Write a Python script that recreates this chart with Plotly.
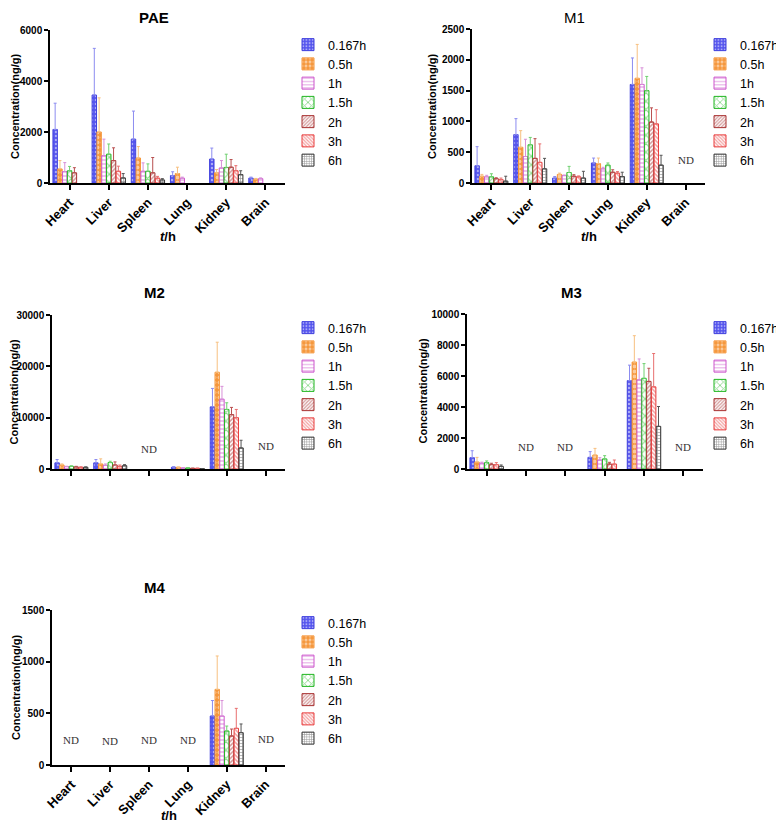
import plotly.graph_objects as go

# The page body adds an 8px margin, so the figure is drawn at (8, 8) in the window.
OFF = 8
W, H = 776, 815

categories = ["Heart", "Liver", "Spleen", "Lung", "Kidney", "Brain"]
series = ["0.167h", "0.5h", "1h", "1.5h", "2h", "3h", "6h"]

# mean values [series][category]; None = no bar
pae_mean = [
    [2100, 3450, 1720, 290, 940, 190],
    [550, 2000, 980, 370, 400, 150],
    [450, 1070, 460, 190, 590, 170],
    [480, 1130, 460, None, 610, None],
    [400, 880, 400, None, 620, None],
    [None, 460, 190, None, 480, None],
    [None, 200, 120, None, 330, None],
]
pae_err = [
    [1030, 1830, 1100, 150, 430, 40],
    [330, 1340, 450, 250, 130, 30],
    [350, 650, 330, 40, 290, 30],
    [170, 400, 290, 0, 520, 0],
    [200, 500, 600, 0, 300, 0],
    [0, 200, 70, 0, 200, 0],
    [0, 170, 50, 0, 150, 0],
]

m1_mean = [
    [280, 785, 80, 325, 1600, None],
    [110, 580, 140, 315, 1700, None],
    [100, 430, 120, 230, 1600, None],
    [100, 620, 170, 290, 1500, None],
    [70, 400, 110, 175, 990, None],
    [55, 335, 100, 160, 960, None],
    [30, 230, 80, 105, 290, None],
]
m1_err = [
    [310, 260, 25, 80, 430, 0],
    [30, 270, 20, 90, 550, 0],
    [25, 280, 10, 25, 270, 0],
    [50, 120, 100, 35, 230, 0],
    [15, 320, 25, 40, 230, 0],
    [25, 300, 15, 25, 230, 0],
    [80, 170, 110, 70, 160, 0],
]

m2_mean = [
    [1200, 1200, None, 330, 12100, None],
    [790, 980, None, 330, 18850, None],
    [460, 720, None, 200, 13600, None],
    [520, 1250, None, 200, 11600, None],
    [400, 790, None, 130, 10600, None],
    [330, 520, None, 130, 10000, None],
    [330, 650, None, 70, 4100, None],
]
m2_err = [
    [650, 650, 0, 130, 3600, 0],
    [200, 1000, 0, 60, 5850, 0],
    [80, 260, 0, 40, 2500, 0],
    [100, 260, 0, 40, 1300, 0],
    [120, 590, 0, 30, 1400, 0],
    [100, 260, 0, 30, 1600, 0],
    [80, 200, 0, 20, 1500, 0],
]

m3_mean = [
    [730, None, None, 750, 5700, None],
    [450, None, None, 900, 6900, None],
    [370, None, None, 580, 5750, None],
    [410, None, None, 650, 5850, None],
    [280, None, None, 320, 5650, None],
    [280, None, None, 320, 5300, None],
    [170, None, None, None, 2750, None],
]
m3_err = [
    [450, 0, 0, 370, 1000, 0],
    [300, 0, 0, 430, 1700, 0],
    [70, 0, 0, 150, 1350, 0],
    [110, 0, 0, 210, 950, 0],
    [90, 0, 0, 110, 850, 0],
    [130, 0, 0, 260, 2150, 0],
    [90, 0, 0, 0, 1280, 0],
]

m4_mean = [
    [None, None, None, None, 474, None],
    [None, None, None, None, 732, None],
    [None, None, None, None, 474, None],
    [None, None, None, None, 329, None],
    [None, None, None, None, 281, None],
    [None, None, None, None, 355, None],
    [None, None, None, None, 313, None],
]
m4_err = [
    [0, 0, 0, 0, 150, 0],
    [0, 0, 0, 0, 323, 0],
    [0, 0, 0, 0, 150, 0],
    [0, 0, 0, 0, 48, 0],
    [0, 0, 0, 0, 67, 0],
    [0, 0, 0, 0, 193, 0],
    [0, 0, 0, 0, 84, 0],
]

# "ND" (not detected) labels: (category, y position in data units)
m1_nd = [("Brain", 380)]
m2_nd = [("Spleen", 3900), ("Brain", 4500)]
m3_nd = [("Liver", 1450), ("Spleen", 1450), ("Brain", 1450)]
m4_nd = [("Heart", 240), ("Liver", 230), ("Spleen", 240), ("Lung", 240), ("Brain", 250)]

# styles per series
styles = [
    dict(bg="#5555ee", fg="#ffffff", shape=".", size=4, sol=0.3, line="#4040dd", err="#8c8cf0"),
    dict(bg="#f5963a", fg="#ffffff", shape=".", size=5, sol=0.45, line="#f5963a", err="#f7c080"),
    dict(bg="#ffffff", fg="#cc55cc", shape="-", size=4, sol=0.35, line="#cc55cc", err="#d890d8"),
    dict(bg="#ffffff", fg="#1fb51f", shape="x", size=6, sol=0.35, line="#1fb51f", err="#70d070"),
    dict(bg="#ffffff", fg="#a83232", shape="/", size=3, sol=0.5, line="#a83232", err="#b85050"),
    dict(bg="#ffffff", fg="#e83c3c", shape="\\", size=3, sol=0.5, line="#e83c3c", err="#e87070"),
    dict(bg="#ffffff", fg="#333333", shape="+", size=3, sol=0.4, line="#333333", err="#555555"),
]

FONT = "Liberation Sans, Arial, sans-serif"

# positions below are in window pixels (as seen in the screenshot)
panels = [
    dict(name="<b>PAE</b>", mean=pae_mean, err=pae_err, nd=[], ymax=6000, dtick=2000,
         x0=50, x1=285, yt=30, yb=183, labels=True, leg=(288, 30), ytitle_x=15.5,
         title_y=17, tx_y=237),
    dict(name="M1", mean=m1_mean, err=m1_err, nd=m1_nd, ymax=2500, dtick=500,
         x0=472, x1=705, yt=29, yb=183, labels=True, leg=(700, 30), ytitle_x=432,
         title_y=17, tx_y=237),
    dict(name="<b>M2</b>", mean=m2_mean, err=m2_err, nd=m2_nd, ymax=30000, dtick=10000,
         x0=52, x1=285, yt=315, yb=469, labels=False, leg=(288, 313), ytitle_x=13.5,
         title_y=292, tx_y=None),
    dict(name="<b>M3</b>", mean=m3_mean, err=m3_err, nd=m3_nd, ymax=10000, dtick=2000,
         x0=467, x1=703, yt=314, yb=469, labels=False, leg=(700, 313), ytitle_x=423,
         title_y=292, tx_y=None),
    dict(name="<b>M4</b>", mean=m4_mean, err=m4_err, nd=m4_nd, ymax=1500, dtick=500,
         x0=52, x1=285, yt=610, yb=765, labels=True, leg=(288, 608), ytitle_x=15.5,
         title_y=587, tx_y=815),
]


def px(x):
    return (x - OFF) / W


def py(y):
    return 1 - (y - OFF) / H


fig = go.Figure()
annotations = []
layout = dict(
    width=W, height=H, margin=dict(l=0, r=0, t=0, b=0, autoexpand=False),
    paper_bgcolor="white", plot_bgcolor="white",
    barmode="group", bargap=0.14, bargroupgap=0.08,
    font=dict(family=FONT, color="black"),
)

for i, p in enumerate(panels):
    k = i + 1
    xa = "x" if k == 1 else f"x{k}"
    ya = "y" if k == 1 else f"y{k}"
    lg = "legend" if k == 1 else f"legend{k}"
    for s, name in enumerate(series):
        st = styles[s]
        fig.add_trace(go.Bar(
            x=categories, y=p["mean"][s], name=name,
            xaxis=xa, yaxis=ya, legend=lg,
            marker=dict(
                color=st["bg"],
                line=dict(color=st["line"], width=1),
                pattern=dict(shape=st["shape"], bgcolor=st["bg"], fgcolor=st["fg"],
                             size=st["size"], solidity=st["sol"], fillmode="overlay"),
            ),
            error_y=dict(type="data", array=p["err"][s], arrayminus=[0] * 6,
                         symmetric=False, color=st["err"], thickness=1, width=1.5),
        ))
    xkey = "xaxis" if k == 1 else f"xaxis{k}"
    ykey = "yaxis" if k == 1 else f"yaxis{k}"
    layout[xkey] = dict(
        domain=[px(p["x0"]), px(p["x1"])], anchor=ya,
        type="category", categoryorder="array", categoryarray=categories,
        showline=True, linecolor="black", linewidth=1.5,
        ticks="outside", ticklen=5, tickwidth=1.5, tickcolor="black",
        showgrid=False, zeroline=False,
        showticklabels=p["labels"], tickangle=-45,
        tickfont=dict(family=FONT, size=13, weight="bold", color="black"),
    )
    layout[ykey] = dict(
        domain=[py(p["yb"]), py(p["yt"])], anchor=xa,
        range=[0, p["ymax"]], tickmode="linear", tick0=0, dtick=p["dtick"],
        tickformat="d",
        showline=True, linecolor="black", linewidth=1.5,
        ticks="outside", ticklen=4, tickwidth=1.5, tickcolor="black",
        showgrid=False, zeroline=False,
        tickfont=dict(family=FONT, size=10, weight="bold", color="black"),
    )
    layout[lg] = dict(
        x=px(p["leg"][0]), y=py(p["leg"][1]), xanchor="left", yanchor="top",
        bgcolor="rgba(0,0,0,0)", tracegroupgap=0, itemwidth=30,
        font=dict(family=FONT, size=12.5, color="black"),
    )
    # panel title
    annotations.append(dict(
        text=p["name"], x=px((p["x0"] + p["x1"]) / 2 - 14), y=py(p["title_y"]),
        xref="paper", yref="paper", showarrow=False, xanchor="center", yanchor="middle",
        font=dict(family=FONT, size=15, color="black"),
    ))
    # y-axis title
    annotations.append(dict(
        text="<b>Concentration(ng/g)</b>", x=px(p["ytitle_x"]), y=py((p["yt"] + p["yb"]) / 2),
        xref="paper", yref="paper", showarrow=False, textangle=-90,
        xanchor="center", yanchor="middle",
        font=dict(family=FONT, size=11, color="black"),
    ))
    # x-axis title
    if p["tx_y"] is not None:
        annotations.append(dict(
            text="<b><i>t</i>/h</b>", x=px((p["x0"] + p["x1"]) / 2), y=py(p["tx_y"]),
            xref="paper", yref="paper", showarrow=False, xanchor="center", yanchor="middle",
            font=dict(family=FONT, size=13, color="black"),
        ))
    # ND labels
    for cat, yv in p["nd"]:
        annotations.append(dict(
            text="ND", x=cat, y=yv, xref=xa, yref=ya, showarrow=False,
            xanchor="center", yanchor="middle",
            font=dict(family="Liberation Serif, Times New Roman, serif", size=11, color="#333333"),
        ))

layout["annotations"] = annotations
fig.update_layout(**layout)
fig.write_html("out.html")
